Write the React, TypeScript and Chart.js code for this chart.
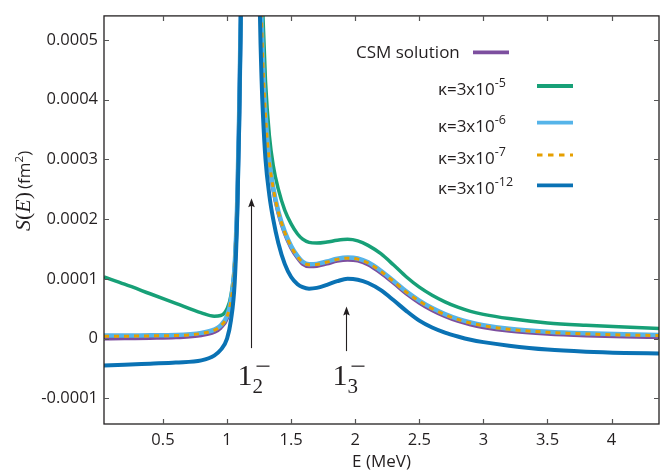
import React, { useEffect, useRef } from "react";
import { Chart, registerables } from "chart.js";

Chart.register(...registerables);

// Energy grid (MeV) shared by every curve
const energy = [
  0.04, 0.2, 0.4, 0.6, 0.8, 0.9, 0.95, 1.0, 1.03, 1.06,
  1.08, 1.095, 1.107, 1.12, 1.14, 1.16, 1.18, 1.2, 1.22, 1.24,
  1.256, 1.27, 1.28, 1.3, 1.33, 1.36, 1.4, 1.45, 1.5, 1.55,
  1.59, 1.64, 1.7, 1.78, 1.86, 1.94, 2.02, 2.1, 2.2, 2.3, 2.4,
  2.5, 2.6, 2.7, 2.8, 2.9, 3.0, 3.2, 3.5, 3.8, 4.1, 4.37,
];

// S(E) in fm^2 — complex scaling reference solution
const csmSolution = [
  0, 0.005e-4, 0.01e-4, 0.02e-4, 0.055e-4, 0.11e-4, 0.18e-4, 0.34e-4, 0.6e-4, 1.2e-4,
  2.3e-4, 3.8e-4, 5.4e-4, 8.0e-4, 14e-4, 22e-4, 26e-4, 23e-4, 16e-4, 9.5e-4,
  6.6e-4, 5.3e-4, 4.6e-4, 3.72e-4, 2.95e-4, 2.5e-4, 2.1e-4, 1.76e-4, 1.52e-4, 1.35e-4,
  1.25e-4, 1.21e-4, 1.215e-4, 1.255e-4, 1.3e-4, 1.32e-4, 1.305e-4, 1.24e-4, 1.1e-4, 0.93e-4, 0.75e-4,
  0.6e-4, 0.475e-4, 0.375e-4, 0.295e-4, 0.235e-4, 0.19e-4, 0.13e-4, 0.08e-4, 0.052e-4, 0.035e-4, 0.025e-4,
];

// kappa = 3x10^-5
const kappa5 = [
  1.03e-4, 0.91e-4, 0.75e-4, 0.59e-4, 0.43e-4, 0.375e-4, 0.385e-4, 0.5e-4, 0.72e-4, 1.3e-4,
  2.35e-4, 3.8e-4, 5.4e-4, 8.0e-4, 14e-4, 22e-4, 26e-4, 23.5e-4, 17e-4, 10.5e-4,
  7.5e-4, 6.1e-4, 5.4e-4, 4.3e-4, 3.4e-4, 2.9e-4, 2.5e-4, 2.15e-4, 1.92e-4, 1.75e-4,
  1.665e-4, 1.61e-4, 1.598e-4, 1.615e-4, 1.645e-4, 1.66e-4, 1.635e-4, 1.56e-4, 1.42e-4, 1.23e-4, 1.03e-4,
  0.86e-4, 0.725e-4, 0.615e-4, 0.525e-4, 0.455e-4, 0.405e-4, 0.335e-4, 0.262e-4, 0.222e-4, 0.193e-4, 0.168e-4,
];

// kappa = 3x10^-6
const kappa6 = [
  0.05e-4, 0.05e-4, 0.055e-4, 0.06e-4, 0.095e-4, 0.15e-4, 0.22e-4, 0.38e-4, 0.64e-4, 1.24e-4,
  2.32e-4, 3.8e-4, 5.4e-4, 8.0e-4, 14e-4, 22e-4, 26e-4, 23e-4, 16e-4, 9.5e-4,
  6.6e-4, 5.3e-4, 4.62e-4, 3.75e-4, 2.98e-4, 2.53e-4, 2.13e-4, 1.79e-4, 1.55e-4, 1.38e-4,
  1.285e-4, 1.245e-4, 1.25e-4, 1.29e-4, 1.335e-4, 1.355e-4, 1.34e-4, 1.275e-4, 1.135e-4, 0.965e-4, 0.785e-4,
  0.635e-4, 0.51e-4, 0.41e-4, 0.33e-4, 0.27e-4, 0.225e-4, 0.165e-4, 0.115e-4, 0.087e-4, 0.07e-4, 0.06e-4,
];

// kappa = 3x10^-7
const kappa7 = [
  0.04e-4, 0.04e-4, 0.045e-4, 0.05e-4, 0.085e-4, 0.14e-4, 0.21e-4, 0.37e-4, 0.63e-4, 1.23e-4,
  2.31e-4, 3.8e-4, 5.4e-4, 8.0e-4, 14e-4, 22e-4, 26e-4, 23e-4, 16e-4, 9.5e-4,
  6.6e-4, 5.3e-4, 4.61e-4, 3.74e-4, 2.97e-4, 2.52e-4, 2.12e-4, 1.78e-4, 1.54e-4, 1.37e-4,
  1.275e-4, 1.235e-4, 1.24e-4, 1.28e-4, 1.325e-4, 1.345e-4, 1.33e-4, 1.265e-4, 1.125e-4, 0.955e-4, 0.775e-4,
  0.625e-4, 0.5e-4, 0.4e-4, 0.32e-4, 0.26e-4, 0.215e-4, 0.155e-4, 0.105e-4, 0.077e-4, 0.06e-4, 0.05e-4,
];

// kappa = 3x10^-12
const kappa12 = [
  -0.453e-4, -0.44e-4, -0.42e-4, -0.4e-4, -0.365e-4, -0.285e-4, -0.19e-4, 0, 0.3e-4, 0.95e-4,
  2.1e-4, 3.6e-4, 5.3e-4, 8.0e-4, 14e-4, 22e-4, 26e-4, 22e-4, 15e-4, 8.5e-4,
  5.5e-4, 4.3e-4, 3.75e-4, 3.0e-4, 2.4e-4, 2.0e-4, 1.6e-4, 1.25e-4, 1.03e-4, 0.91e-4,
  0.86e-4, 0.835e-4, 0.848e-4, 0.9e-4, 0.96e-4, 1.0e-4, 0.985e-4, 0.93e-4, 0.81e-4, 0.64e-4, 0.46e-4,
  0.3e-4, 0.185e-4, 0.1e-4, 0.035e-4, -0.02e-4, -0.06e-4, -0.12e-4, -0.185e-4, -0.22e-4, -0.24e-4, -0.25e-4,
];

const xTicks = [0.5, 1, 1.5, 2, 2.5, 3, 3.5, 4];
const xTickLabels = ["0.5", "1", "1.5", "2", "2.5", "3", "3.5", "4"];
const yTicks = [-0.0001, 0, 0.0001, 0.0002, 0.0003, 0.0004, 0.0005];
const yTickLabels = ["-0.0001", "0", "0.0001", "0.0002", "0.0003", "0.0004", "0.0005"];

// Legend entries
const legendLabels = ["CSM solution", "κ=3x10", "κ=3x10", "κ=3x10", "κ=3x10"];
const legendExponents = ["", "-5", "-6", "-7", "-12"];

// Resonance markers: energy, arrow tail / head, subscript
const resonanceEnergy = [1.19, 1.925];
const resonanceTail = [-1.6e-5, -2.1e-5];
const resonanceHead = [2.35e-4, 5.35e-5];
const resonanceIndex = ["2", "3"];
const resonanceLabelLevel = -7.8e-5;

const PURPLE = "#7d4f9f";
const GREEN = "#17a077";
const LIGHT_BLUE = "#56b4e9";
const ORANGE = "#e69f00";
const DARK_BLUE = "#0a72b4";
const INK = "#231f20";

const colors = [PURPLE, GREEN, LIGHT_BLUE, ORANGE, DARK_BLUE];
const widths = [4, 3.5, 4.5, 3, 4];

const SANS = "'Open Sans', 'DejaVu Sans', sans-serif";
const SERIF = "'Liberation Serif', 'DejaVu Serif', serif";

const framePlugin = {
  id: "frame",
  afterDatasetsDraw(chart: any) {
    const { ctx, chartArea: a, scales } = chart;
    const xs = scales.x;
    const ys = scales.y;
    ctx.save();
    ctx.strokeStyle = INK;
    ctx.lineWidth = 1.3;
    ctx.strokeRect(a.left, a.top, a.right - a.left, a.bottom - a.top);
    ctx.strokeStyle = "#555";
    ctx.lineWidth = 1.2;
    const t = 5;
    ctx.beginPath();
    for (const v of xTicks) {
      const px = Math.round(xs.getPixelForValue(v)) + 0.5;
      ctx.moveTo(px, a.bottom);
      ctx.lineTo(px, a.bottom - t);
      ctx.moveTo(px, a.top);
      ctx.lineTo(px, a.top + t);
    }
    for (const v of yTicks) {
      const py = Math.round(ys.getPixelForValue(v)) + 0.5;
      ctx.moveTo(a.left, py);
      ctx.lineTo(a.left + t, py);
      ctx.moveTo(a.right, py);
      ctx.lineTo(a.right - t, py);
    }
    ctx.stroke();
    ctx.restore();
  },
  afterDraw(chart: any) {
    const { ctx, scales } = chart;
    const xs = scales.x;
    const ys = scales.y;
    ctx.save();
    ctx.fillStyle = INK;
    ctx.strokeStyle = INK;

    // resonance arrows and labels
    resonanceEnergy.forEach((e, i) => {
      const px = Math.round(xs.getPixelForValue(e)) + 0.5;
      const y0 = ys.getPixelForValue(resonanceTail[i]);
      const y1 = ys.getPixelForValue(resonanceHead[i]);
      ctx.lineWidth = 1.1;
      ctx.beginPath();
      ctx.moveTo(px, y0);
      ctx.lineTo(px, y1 + 6);
      ctx.stroke();
      ctx.beginPath();
      ctx.moveTo(px, y1);
      ctx.lineTo(px - 3.3, y1 + 9);
      ctx.lineTo(px, y1 + 7.5);
      ctx.lineTo(px + 3.3, y1 + 9);
      ctx.closePath();
      ctx.fill();

      const by = ys.getPixelForValue(resonanceLabelLevel);
      ctx.textBaseline = "alphabetic";
      ctx.textAlign = "left";
      ctx.font = `30px ${SERIF}`;
      const lx = px - 14;
      ctx.fillText("1", lx, by);
      const w1 = ctx.measureText("1").width;
      ctx.font = `21px ${SERIF}`;
      ctx.fillText(resonanceIndex[i], lx + w1, by + 8);
      ctx.lineWidth = 1.2;
      ctx.beginPath();
      ctx.moveTo(lx + w1 + 4, by - 19);
      ctx.lineTo(lx + w1 + 17, by - 19);
      ctx.stroke();
    });

    // legend
    const rowY = [52.3, 86, 122.7, 155, 185.3];
    legendLabels.forEach((label, i) => {
      const y = rowY[i];
      ctx.textAlign = "left";
      ctx.textBaseline = "alphabetic";
      ctx.fillStyle = INK;
      ctx.font = `17px ${SANS}`;
      if (i === 0) {
        ctx.fillText(label, 356, y + 6);
      } else {
        ctx.fillText(label, 438, y + 9);
        const w = ctx.measureText(label).width;
        ctx.font = `12.5px ${SANS}`;
        ctx.fillText(legendExponents[i], 438 + w, y + 1);
      }
      const x0 = i === 0 ? 473 : 537;
      ctx.strokeStyle = colors[i];
      ctx.lineWidth = i === 3 ? 3 : 3.8;
      ctx.setLineDash(i === 3 ? [5.5, 5.5] : []);
      ctx.beginPath();
      ctx.moveTo(x0, y);
      ctx.lineTo(x0 + 36, y);
      ctx.stroke();
      ctx.setLineDash([]);
    });

    // axis titles
    ctx.fillStyle = INK;
    ctx.textAlign = "center";
    ctx.textBaseline = "alphabetic";
    ctx.font = `17px ${SANS}`;
    ctx.fillText("E (MeV)", (chart.chartArea.left + chart.chartArea.right) / 2, 467);

    ctx.translate(30, 231);
    ctx.rotate(-Math.PI / 2);
    ctx.textAlign = "left";
    let cx = 0;
    const part = (s: string, font: string, dy = 0) => {
      ctx.font = font;
      ctx.fillText(s, cx, dy);
      cx += ctx.measureText(s).width;
    };
    part("S", `italic 22px ${SERIF}`);
    part("(", `22px ${SERIF}`);
    part("E", `italic 22px ${SERIF}`);
    part(")", `22px ${SERIF}`);
    cx += 3;
    part("(fm", `17px ${SANS}`);
    part("2", `11.5px ${SANS}`, -7);
    part(")", `17px ${SANS}`);
    ctx.restore();
  },
};

export default function App() {
  const ref = useRef<HTMLCanvasElement>(null);

  useEffect(() => {
    document.body.style.margin = "0";
    const canvas = ref.current;
    if (!canvas) return;
    const series = [csmSolution, kappa5, kappa6, kappa7, kappa12];
    const datasets = series.map((values, i) => ({
      label: legendLabels[i] + legendExponents[i],
      data: energy.map((e, k) => ({ x: e, y: values[k] })),
      borderColor: colors[i],
      backgroundColor: colors[i],
      borderWidth: widths[i],
      borderDash: i === 3 ? [5, 5] : [],
      order: 5 - i,
      clip: 0,
      fill: false,
    }));

    const tickFont = { family: SANS, size: 16.5 };
    const chart = new Chart(canvas, {
      type: "line",
      data: { datasets },
      options: {
        animation: false,
        responsive: false,
        devicePixelRatio: 1,
        layout: { padding: { left: 0, right: 8, top: 10, bottom: 0 } },
        elements: {
          point: { radius: 0 },
          line: { cubicInterpolationMode: "monotone" },
        },
        plugins: { legend: { display: false }, tooltip: { enabled: false } },
        scales: {
          x: {
            type: "linear",
            min: 0.04,
            max: 4.37,
            grid: { display: false, drawTicks: false },
            border: { display: false },
            afterBuildTicks: (s: any) => {
              s.ticks = xTicks.map((v) => ({ value: v }));
            },
            afterFit: (s: any) => {
              s.height = 48;
            },
            ticks: {
              autoSkip: false,
              maxRotation: 0,
              padding: 6,
              color: INK,
              font: tickFont,
              callback: (v: any) => xTickLabels[xTicks.indexOf(Number(v))],
            },
          },
          y: {
            type: "linear",
            min: -0.000143,
            max: 0.00054,
            grid: { display: false, drawTicks: false },
            border: { display: false },
            afterBuildTicks: (s: any) => {
              s.ticks = yTicks.map((v) => ({ value: v }));
            },
            afterFit: (s: any) => {
              s.width = 104;
            },
            ticks: {
              autoSkip: false,
              padding: 6,
              color: INK,
              font: tickFont,
              callback: (v: any) => yTickLabels[yTicks.indexOf(Number(v))],
            },
          },
        },
      } as any,
      plugins: [framePlugin],
    });
    return () => chart.destroy();
  }, []);

  return <canvas ref={ref} width={667} height={472} style={{ display: "block" }} />;
}
